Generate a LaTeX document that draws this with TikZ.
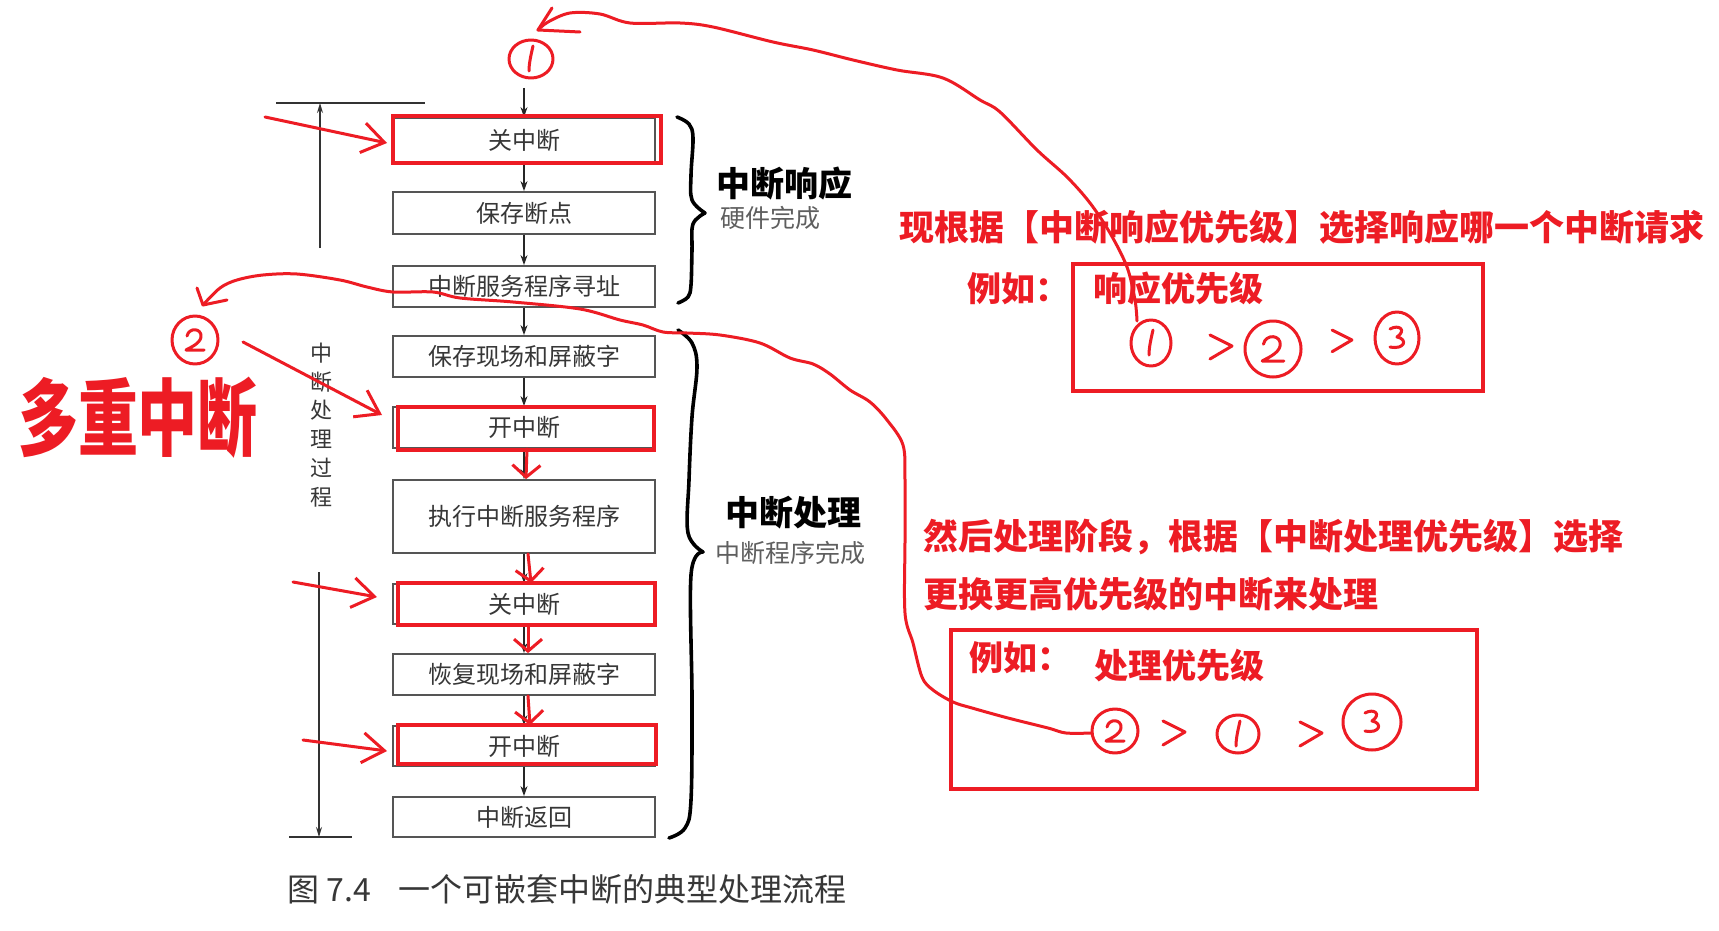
\documentclass[tikz,border=0pt]{standalone}
\usepackage{fontspec}
\setmainfont{Noto Sans CJK SC}
\usetikzlibrary{arrows.meta}
\definecolor{hred}{RGB}{237,28,36}
\definecolor{boxline}{RGB}{85,85,85}
\definecolor{boxtext}{RGB}{55,55,55}
\definecolor{subtext}{RGB}{95,95,95}
\begin{document}
\begin{tikzpicture}[x=1pt,y=-1pt,
  flowbox/.style={draw=boxline, line width=1.8pt, minimum width=262pt, inner sep=0pt, text=boxtext, font=\fontsize{24}{24}\selectfont},
  flowarrow/.style={-{Stealth[length=10pt,width=7pt]}, line width=1.4pt, draw=black!85},
  dimline/.style={line width=1.3pt, draw=black!80},
  redbox/.style={draw=hred, line width=4pt},
  hand/.style={draw=hred, line width=3pt, line cap=round, line join=round},
  redarrow/.style={hand, -{Straight Barb[length=12pt,width=28pt]}},
  redlong/.style={hand, -{Straight Barb[length=22pt,width=30pt]}},
  bracestroke/.style={draw=black, line width=3.6pt, line cap=round, line join=round},
  redtxt/.style={text=hred, inner sep=0pt, font=\fontsize{35}{35}\selectfont\bfseries},
  headtxt/.style={text=black, inner sep=0pt, font=\fontsize{34}{34}\selectfont\bfseries},
  subtxt/.style={text=subtext, inner sep=0pt, font=\fontsize{25}{25}\selectfont},
  digone/.pic={\draw[hand] (2,-13) .. controls (0,-4) and (-2,4) .. (-2,12);},
  digtwo/.pic={\draw[hand] (-8,-4) .. controls (-6,-13) and (7,-12) .. (6,-3) .. controls (5,4) and (-6,8) .. (-9,10) -- (9,10);},
  digthree/.pic={\draw[hand] (-7,-9) .. controls (2,-14) and (10,-8) .. (0,-1) .. controls (11,1) and (8,12) .. (-7,9);},
  gtsign/.pic={\draw[hand] (-11,-11) -- (11,0) -- (-11,13);}
]
\useasboundingbox (0,0) rectangle (1719,931);
\fill[white] (0,0) rectangle (1719,931);

% ---------------- flow chart ----------------
\node[flowbox, minimum height=44pt] (b1) at (524,140) {关中断};
\node[flowbox, minimum height=42pt] (b2) at (524,213) {保存断点};
\node[flowbox, minimum height=41pt] (b3) at (524,286.5) {中断服务程序寻址};
\node[flowbox, minimum height=41pt] (b4) at (524,356.5) {保存现场和屏蔽字};
\node[flowbox, minimum height=41pt] (b5) at (524,427.5) {开中断};
\node[flowbox, minimum height=73pt] (b6) at (524,516.5) {执行中断服务程序};
\node[flowbox, minimum height=40pt] (b7) at (524,604) {关中断};
\node[flowbox, minimum height=41pt] (b8) at (524,674.5) {恢复现场和屏蔽字};
\node[flowbox, minimum height=40pt] (b9) at (524,746) {开中断};
\node[flowbox, minimum height=40pt] (b10) at (524,817) {中断返回};

\coordinate (start) at (524,88);
\draw[flowarrow] (start) -- (b1);
\foreach \a/\b in {b1/b2,b2/b3,b3/b4,b4/b5,b5/b6,b6/b7,b7/b8,b8/b9,b9/b10}
  \draw[flowarrow] (\a) -- (\b);

% red highlight boxes
\draw[redbox] (393,116) rectangle (661,163);
\draw[redbox] (398,407) rectangle (654,450);
\draw[redbox] (398,583) rectangle (655,625);
\draw[redbox] (398,725) rectangle (656,764);

% red overlay arrows between boxes
\draw[redarrow] ([xshift=3pt]b5.south) -- ([xshift=2pt]b6.north);
\draw[redarrow] ([xshift=4pt]b6.south) -- ([xshift=7pt]b7.north);
\draw[redarrow] ([xshift=4pt]b7.south) -- ([xshift=4pt]b8.north);
\draw[redarrow] ([xshift=4pt]b8.south) -- ([xshift=6pt]b9.north);

% dimension lines on the left
\coordinate (dimtopL) at (276,103);
\coordinate (dimtopR) at (425,103);
\coordinate (dimtopA) at (320,248);
\coordinate (dimtopB) at (320,103);
\draw[dimline] (dimtopL) -- (dimtopR);
\draw[dimline, -{Stealth[length=10pt,width=6pt]}] (dimtopA) -- (dimtopB);
\coordinate (dimbotA) at (319,572);
\coordinate (dimbotB) at (319,837);
\coordinate (dimbotL) at (289,837);
\coordinate (dimbotR) at (352,837);
\draw[dimline, -{Stealth[length=10pt,width=6pt]}] (dimbotA) -- (dimbotB);
\draw[dimline] (dimbotL) -- (dimbotR);
\node[text=boxtext, inner sep=0pt, align=center, font=\fontsize{22}{28.8}\selectfont] (vtxt) at (321,425) {中\\断\\处\\理\\过\\程};

% braces
\draw[bracestroke] plot[smooth, tension=0.6] coordinates {(677,117) (689,124) (693,138) (691,175) (692,200) (705,213)};
\draw[bracestroke] plot[smooth, tension=0.6] coordinates {(705,213) (693,224) (692,250) (691,285) (688,297) (678,303)};
\draw[bracestroke] plot[smooth, tension=0.6] coordinates {(678,330) (692,343) (697,367) (692,417) (689,480) (688,533) (703,552)};
\draw[bracestroke] plot[smooth, tension=0.6] coordinates {(703,552) (691,575) (692,700) (691,800) (685,828) (669,838)};

\node[headtxt] (resp) at (784,184) {中断响应};
\node[subtxt] (respsub) at (770,218) {硬件完成};
\node[headtxt] (proc) at (793,513) {中断处理};
\node[subtxt] (procsub) at (790,553) {中断程序完成};

% caption
\node[anchor=west, inner sep=0pt, text=boxtext, font=\fontsize{32}{32}\selectfont] (cap) at (287,889) {\makebox[111pt][l]{图 7.4}一个可嵌套中断的典型处理流程};

% ---------------- red annotations ----------------
\node[text=hred, inner sep=0pt, font=\fontsize{60}{60}\selectfont\bfseries] (multi) at (138,418) {\scalebox{1}[1.4]{多重中断}};

% circle 1 on top
\coordinate (top1) at (531,59);
\draw[hand] (top1) ellipse [x radius=22, y radius=19];
\pic at (top1) {digone};

% circle 2 on the left
\coordinate (left2) at (195,340);
\draw[hand] (left2) ellipse [x radius=23, y radius=24];
\pic at (left2) {digtwo};

% left red arrows
\coordinate (a1s) at (265,117); \coordinate (a1e) at (387,143);
\coordinate (a2s) at (243,342); \coordinate (a2e) at (382,415);
\coordinate (a3s) at (293,582); \coordinate (a3e) at (377,597);
\coordinate (a4s) at (303,740); \coordinate (a4e) at (387,751);
\draw[redlong] (a1s) -- (a1e);
\draw[redlong] (a2s) -- (a2e);
\draw[redlong] (a3s) -- (a3e);
\draw[redlong] (a4s) -- (a4e);

% text blocks
\node[redtxt, anchor=west] (t1) at (899,227) {现根据【中断响应优先级】选择响应哪一个中断请求};
\node[redtxt, anchor=west, font=\fontsize{34}{34}\selectfont\bfseries] (t2) at (967,289) {例如：};
\node[redtxt, anchor=west, font=\fontsize{34}{34}\selectfont\bfseries] (t3) at (1093,289) {响应优先级};
\draw[redbox] (1073,264) rectangle (1483,391);

\node[redtxt, anchor=west] (t4) at (923,537) {然后处理阶段，根据【中断处理优先级】选择};
\node[redtxt, anchor=west] (t5) at (923,594) {更换更高优先级的中断来处理};
\draw[redbox] (951,630) rectangle (1477,789);
\node[redtxt, anchor=west, font=\fontsize{34}{34}\selectfont\bfseries] (t6) at (969,658) {例如：};
\node[redtxt, anchor=west, font=\fontsize{34}{34}\selectfont\bfseries] (t7) at (1094,666) {处理优先级};

% response priority: 1 > 2 > 3
\coordinate (r1) at (1151,343);
\coordinate (r2) at (1273,349);
\coordinate (r3) at (1397,338);
\draw[hand] (r1) ellipse [x radius=20, y radius=23];
\pic at (r1) {digone};
\pic at (1221,346) {gtsign};
\draw[hand] (r2) ellipse [x radius=28, y radius=28];
\pic[scale=1.2] at (r2) {digtwo};
\pic[scale=0.9] at (1342,340) {gtsign};
\draw[hand] (r3) ellipse [x radius=22, y radius=26];
\pic at (r3) {digthree};

% processing priority: 2 > 1 > 3
\coordinate (p2) at (1115,731);
\coordinate (p1) at (1238,734);
\coordinate (p3) at (1372,722);
\draw[hand] (p2) ellipse [x radius=23, y radius=22];
\pic at (p2) {digtwo};
\pic at (1174,732) {gtsign};
\draw[hand] (p1) ellipse [x radius=21, y radius=19];
\pic at (p1) {digone};
\pic at (1311,733) {gtsign};
\draw[hand] (p3) ellipse [x radius=29, y radius=28];
\pic at (p3) {digthree};

% long curve A: from response 1 back to top circle 1
\coordinate (cAs) at (1137,321);
\coordinate (cAe) at (538,30);
\draw[hand] plot[smooth, tension=0.55] coordinates {(cAs) (1135,300) (1127,267) (1110,233) (1090,203) (1067,177) (1037,150) (1000,112) (980,100) (943,78) (897,70) (853,60) (813,50) (773,42) (713,27) (680,23) (630,23) (600,14) (570,13) (548,22) (cAe)};
\draw[hand] (552,8) -- (cAe) -- (580,32);

% long curve B: from processing 2 back to left circle 2
\coordinate (cBs) at (1092,733);
\coordinate (cBe) at (203,305);
\draw[hand] plot[smooth, tension=0.55] coordinates {(cBs) (1066,733) (1048,728) (1008,718) (972,708) (953,702) (933,690) (922,677) (913,643) (905,613) (905,540) (905,480) (903,445) (887,420) (870,402) (850,390) (830,374) (813,364) (790,358) (760,343) (720,335) (687,333) (663,332) (643,325) (620,320) (580,309) (513,302) (460,298) (433,292) (393,292) (367,287) (340,280) (297,274) (263,275) (237,280) (220,288) (cBe)};
\draw[hand] (197,288) -- (cBe) -- (227,300);
\end{tikzpicture}
\end{document}
